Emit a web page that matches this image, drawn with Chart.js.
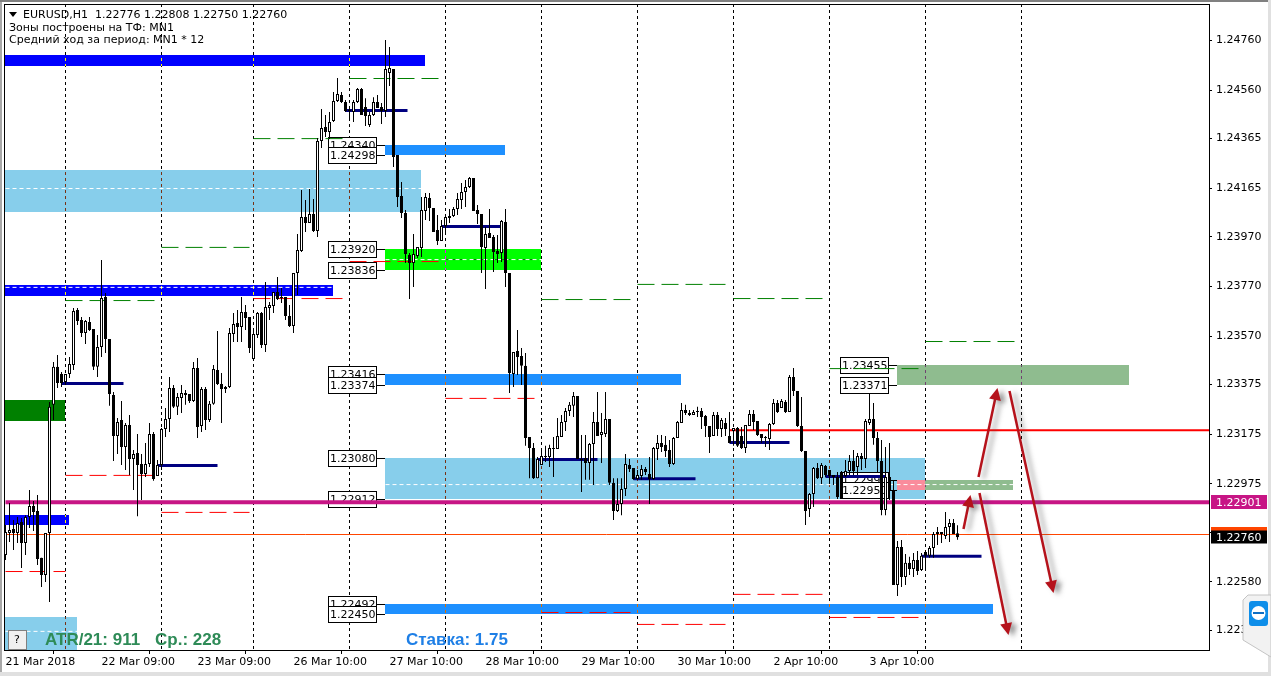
<!DOCTYPE html>
<html>
<head>
<meta charset="utf-8">
<title>EURUSD,H1</title>
<script src="https://cdn.jsdelivr.net/npm/chart.js@4/dist/chart.umd.min.js"></script>
<style>
    html, body { margin: 0; padding: 0; background: #fff; overflow: hidden; }
    canvas { display: block; }
</style>
</head>
<body>
<canvas id="chart" width="1271" height="676"></canvas>
<script>
// H1 candles, bar 0 = 21 Mar 2018
const opens = [
1.22689,1.22777,1.22793,1.22777,1.22821,1.22737,1.22841,1.22886,1.22866,1.22677,
1.22608,1.22777,1.23293,1.23446,1.23417,1.23385,1.23417,1.23454,1.23675,1.23635,
1.23582,1.23627,1.23598,1.23446,1.23526,1.23727,1.23558,1.23333,1.23168,1.23232,
1.23123,1.23212,1.23075,1.23099,1.23055,1.23015,1.23055,1.23176,1.23007,1.23051,
1.23196,1.23236,1.23361,1.23285,1.23321,1.23341,1.23337,1.23309,1.23441,1.23208,
1.23357,1.23232,1.23297,1.23433,1.23377,1.23357,1.23365,1.23578,1.23623,1.23607,
1.23667,1.23647,1.23478,1.23574,1.23663,1.23534,1.23683,1.23691,1.23747,1.23727,
1.23727,1.23651,1.23611,1.23824,1.23912,1.24049,1.24025,1.24061,1.23993,1.24355,
1.24412,1.24392,1.24436,1.24516,1.24541,1.24512,1.24480,1.24472,1.24512,1.24565,
1.24492,1.24420,1.24460,1.24512,1.24492,1.24476,1.24629,1.24645,1.24299,1.24134,
1.24065,1.23896,1.23864,1.23892,1.23925,1.24074,1.24126,1.24086,1.23997,1.23953,
1.24013,1.24053,1.24053,1.24082,1.24118,1.24150,1.24170,1.24206,1.24078,1.24061,
1.23925,1.23985,1.23969,1.23912,1.23904,1.24029,1.23824,1.23417,1.23510,1.23490,
1.23450,1.23164,1.23119,1.22998,1.23051,1.23087,1.23083,1.23119,1.23115,1.23164,
1.23224,1.23268,1.23289,1.23329,1.23075,1.23079,1.23059,1.23135,1.23224,1.23172,
1.23176,1.23236,1.22979,1.22866,1.22894,1.22954,1.23051,1.23039,1.22995,1.23007,
1.23035,1.23015,1.22995,1.23115,1.23139,1.23132,1.23111,1.23055,1.23160,1.23220,
1.23272,1.23260,1.23252,1.23268,1.23268,1.23248,1.23208,1.23168,1.23252,1.23196,
1.23220,1.23168,1.23188,1.23200,1.23168,1.23119,1.23208,1.23256,1.23228,1.23176,
1.23164,1.23156,1.23216,1.23301,1.23280,1.23305,1.23264,1.23405,1.23349,1.23208,
1.23107,1.22874,1.22934,1.23039,1.22998,1.23047,1.23031,1.23011,1.23003,1.23023,
1.23007,1.23027,1.23067,1.23043,1.23087,1.23075,1.23220,1.23236,1.23160,1.23067,
1.22870,1.23003,1.22950,1.22568,1.22721,1.22600,1.22657,1.22632,1.22668,1.22628,
1.22701,1.22685,1.22717,1.22781,1.22781,1.22765,1.22801,1.22817,1.22776];
const highs = [
1.22809,1.22898,1.22829,1.22841,1.22837,1.22849,1.22950,1.22906,1.22930,1.22677,
1.22777,1.23305,1.23466,1.23494,1.23425,1.23417,1.23486,1.23683,1.23683,1.23647,
1.23635,1.23647,1.23598,1.23574,1.23876,1.23743,1.23558,1.23345,1.23240,1.23309,
1.23220,1.23252,1.23111,1.23176,1.23095,1.23139,1.23220,1.23184,1.23071,1.23200,
1.23280,1.23405,1.23373,1.23341,1.23373,1.23353,1.23337,1.23466,1.23482,1.23365,
1.23365,1.23309,1.23454,1.23590,1.23421,1.23369,1.23602,1.23663,1.23675,1.23727,
1.23695,1.23647,1.23594,1.23667,1.23667,1.23788,1.23707,1.23747,1.23808,1.23764,
1.23727,1.23695,1.23824,1.23981,1.24158,1.24118,1.24162,1.24122,1.24367,1.24484,
1.24460,1.24472,1.24553,1.24609,1.24553,1.24520,1.24488,1.24520,1.24569,1.24569,
1.24528,1.24472,1.24532,1.24541,1.24508,1.24762,1.24734,1.24645,1.24299,1.24190,
1.24078,1.23904,1.23981,1.23929,1.24130,1.24146,1.24146,1.24086,1.24057,1.24037,
1.24057,1.24082,1.24090,1.24146,1.24186,1.24198,1.24210,1.24206,1.24098,1.24061,
1.24009,1.24082,1.23977,1.23977,1.24037,1.24082,1.23824,1.23506,1.23594,1.23522,
1.23502,1.23164,1.23139,1.23083,1.23119,1.23128,1.23132,1.23164,1.23240,1.23252,
1.23280,1.23305,1.23345,1.23329,1.23172,1.23172,1.23139,1.23264,1.23345,1.23260,
1.23345,1.23236,1.22998,1.22998,1.22998,1.23095,1.23075,1.23039,1.23031,1.23051,
1.23043,1.23083,1.23123,1.23172,1.23172,1.23168,1.23152,1.23164,1.23228,1.23301,
1.23293,1.23272,1.23272,1.23285,1.23280,1.23252,1.23208,1.23264,1.23264,1.23240,
1.23240,1.23264,1.23200,1.23204,1.23204,1.23212,1.23272,1.23272,1.23228,1.23176,
1.23168,1.23220,1.23317,1.23313,1.23317,1.23313,1.23413,1.23441,1.23349,1.23325,
1.23107,1.22938,1.23043,1.23059,1.23059,1.23051,1.23031,1.23011,1.23023,1.23027,
1.23071,1.23091,1.23111,1.23099,1.23099,1.23236,1.23341,1.23301,1.23184,1.23152,
1.23123,1.23139,1.22987,1.22745,1.22749,1.22693,1.22681,1.22697,1.22705,1.22697,
1.22709,1.22725,1.22781,1.22801,1.22781,1.22862,1.22833,1.22833,1.22808];
const lows = [
1.22668,1.22741,1.22709,1.22737,1.22636,1.22689,1.22797,1.22785,1.22648,1.22560,
1.22580,1.22499,1.23232,1.23361,1.23365,1.23373,1.23401,1.23433,1.23615,1.23566,
1.23538,1.23590,1.23433,1.23405,1.23486,1.23502,1.23289,1.23067,1.23095,1.23051,
1.23031,1.23011,1.22950,1.22845,1.22910,1.23003,1.23043,1.22987,1.23007,1.23031,
1.23164,1.23184,1.23280,1.23252,1.23260,1.23293,1.23301,1.23305,1.23160,1.23184,
1.23192,1.23224,1.23293,1.23373,1.23220,1.23341,1.23361,1.23546,1.23546,1.23546,
1.23594,1.23502,1.23474,1.23562,1.23522,1.23506,1.23635,1.23663,1.23715,1.23703,
1.23635,1.23607,1.23582,1.23735,1.23908,1.23989,1.24025,1.23989,1.23969,1.24327,
1.24371,1.24363,1.24432,1.24512,1.24508,1.24472,1.24440,1.24432,1.24508,1.24460,
1.24416,1.24412,1.24456,1.24488,1.24424,1.24452,1.24577,1.24251,1.24090,1.24045,
1.23864,1.23719,1.23768,1.23884,1.23888,1.24037,1.24033,1.23989,1.23937,1.23953,
1.23989,1.24025,1.24049,1.24057,1.24082,1.24090,1.24166,1.24074,1.24021,1.23824,
1.23760,1.23965,1.23828,1.23864,1.23868,1.23768,1.23341,1.23365,1.23413,1.23373,
1.23128,1.22998,1.22995,1.22998,1.23051,1.23063,1.23043,1.23003,1.23115,1.23164,
1.23188,1.23248,1.23244,1.23075,1.22942,1.22991,1.22991,1.22970,1.23168,1.23059,
1.23164,1.22970,1.22829,1.22862,1.22849,1.22926,1.23023,1.22991,1.22991,1.22991,
1.23011,1.22894,1.22991,1.23071,1.23103,1.23083,1.23043,1.23051,1.23160,1.23220,
1.23252,1.23248,1.23252,1.23244,1.23196,1.23164,1.23099,1.23168,1.23168,1.23164,
1.23168,1.23139,1.23128,1.23123,1.23115,1.23099,1.23208,1.23192,1.23168,1.23139,
1.23123,1.23111,1.23212,1.23260,1.23280,1.23260,1.23264,1.23329,1.23204,1.23103,
1.22809,1.22841,1.22882,1.22995,1.22974,1.23003,1.22974,1.22970,1.22914,1.22914,
1.23003,1.23011,1.23011,1.23011,1.23031,1.23039,1.23212,1.23132,1.23023,1.22849,
1.22849,1.22910,1.22568,1.22523,1.22560,1.22568,1.22608,1.22600,1.22608,1.22624,
1.22636,1.22677,1.22677,1.22729,1.22737,1.22753,1.22741,1.22773,1.22750];
const closes = [
1.22781,1.22789,1.22777,1.22817,1.22737,1.22841,1.22886,1.22862,1.22672,1.22608,
1.22777,1.23285,1.23446,1.23381,1.23381,1.23417,1.23458,1.23671,1.23631,1.23582,
1.23631,1.23594,1.23446,1.23526,1.23723,1.23558,1.23337,1.23168,1.23224,1.23123,
1.23212,1.23075,1.23095,1.23051,1.23015,1.23055,1.23176,1.22995,1.23051,1.23196,
1.23236,1.23361,1.23285,1.23325,1.23341,1.23333,1.23309,1.23441,1.23204,1.23357,
1.23232,1.23297,1.23437,1.23377,1.23357,1.23365,1.23582,1.23619,1.23607,1.23667,
1.23643,1.23522,1.23578,1.23663,1.23534,1.23687,1.23695,1.23747,1.23719,1.23723,
1.23651,1.23611,1.23824,1.23917,1.24049,1.24025,1.24061,1.23993,1.24355,1.24408,
1.24392,1.24432,1.24516,1.24545,1.24512,1.24476,1.24476,1.24512,1.24565,1.24460,
1.24456,1.24460,1.24512,1.24488,1.24476,1.24645,1.24649,1.24291,1.24130,1.24065,
1.23900,1.23864,1.23900,1.23929,1.24078,1.24130,1.24086,1.23989,1.23953,1.24013,
1.24049,1.24045,1.24082,1.24122,1.24150,1.24170,1.24206,1.24074,1.24061,1.23929,
1.23981,1.23965,1.23908,1.23900,1.24033,1.23824,1.23421,1.23506,1.23486,1.23450,
1.23160,1.23119,1.22998,1.23075,1.23087,1.23083,1.23119,1.23115,1.23168,1.23224,
1.23268,1.23293,1.23329,1.23075,1.23071,1.23059,1.23135,1.23224,1.23168,1.23184,
1.23236,1.22979,1.22866,1.22894,1.22954,1.23055,1.23035,1.22995,1.23011,1.23035,
1.23023,1.22995,1.23119,1.23139,1.23123,1.23107,1.23055,1.23160,1.23224,1.23272,
1.23260,1.23252,1.23264,1.23264,1.23244,1.23208,1.23164,1.23252,1.23196,1.23232,
1.23196,1.23139,1.23200,1.23128,1.23119,1.23212,1.23256,1.23224,1.23172,1.23160,
1.23160,1.23216,1.23301,1.23264,1.23309,1.23264,1.23405,1.23349,1.23208,1.23107,
1.22866,1.22934,1.23039,1.22998,1.23051,1.23011,1.23007,1.23003,1.22922,1.22918,
1.23027,1.23067,1.23027,1.23087,1.23075,1.23228,1.23236,1.23160,1.23067,1.22870,
1.23003,1.22950,1.22568,1.22721,1.22600,1.22657,1.22632,1.22668,1.22624,1.22685,
1.22685,1.22717,1.22773,1.22773,1.22773,1.22801,1.22817,1.22773,1.22760];

const priceTicks = [1.24760,1.24560,1.24365,1.24165,1.23970,1.23770,1.23570,1.23375,1.23175,1.22975,1.22780,1.22580,1.22385];
const dateTickBars = [0,24,48,72,96,120,144,168,192,216];
const dateLabels = ['21 Mar 2018','22 Mar 09:00','23 Mar 09:00','26 Mar 10:00','27 Mar 10:00','28 Mar 10:00','29 Mar 10:00','30 Mar 10:00','2 Apr 10:00','3 Apr 10:00'];
const separatorBars = [15,39,62,86,110,134,158,182,206,230,254];

// zones: [first bar, last bar, upper price, lower price]
const blueZones = [[0,105,1.24702,1.24657],[0,82,1.23776,1.23731],[0,16,1.22849,1.22809]];
const skyZones = [[0,104,1.24239,1.24069],[95,230,1.23080,1.22912],[0,18,1.22439,1.22306]];
const dodgerZones = [[95,125,1.24340,1.24298],[95,169,1.23416,1.23374],[95,247,1.22492,1.22450]];
const limeZones = [[95,134,1.23920,1.23836]];
const darkGreenZones = [[0,15,1.23313,1.23228]];
const sageZones = [[223,281,1.23455,1.23371],[230,252,1.22990,1.22950]];
const pinkZones = [[223,230,1.22990,1.22950]];

// segments: [first bar, last bar, price]
const navySegments = [[14,29.5,1.23379],[38,53,1.23049],[85,100.5,1.24478],[109,124,1.24011],[133,148,1.23073],[157,172.5,1.22996],[181,196,1.23141],[205,220,1.23005],[229,244,1.22683]];
const greenDashes = [[15,37.5,1.23713],[39,61,1.23927],[62,85,1.24365],[86,109,1.24607],[110,133,1.23878],[134,156.5,1.23717],[158,180,1.23778],[182,204.5,1.23721],[206,228.5,1.23439],[230,252.5,1.23548]];
const redDashes = [[0,15,1.22622],[15,37.5,1.23009],[39,61,1.22860],[62,85,1.23721],[86,109,1.23870],[110,132.5,1.23319],[134,157,1.22457],[158,180,1.22409],[182,204.5,1.22530],[206,228.5,1.22437]];
const whiteDashes = [[0,82,1.23766],[0,104,1.24164],[95,230,1.22972],[95,134,1.23878],[0,18,1.22381],[223,281,1.23371],[230,252,1.22972]];
const magentaLevel = 1.22901;
const orangeLevel = 1.22771;
const redLevel = [181,1.23191];

// labelled zone edges: [zone start bar, price]
const edgeLabels = [[95,1.24340],[95,1.24298],[95,1.23920],[95,1.23836],[95,1.23416],[95,1.23374],[95,1.23080],[95,1.22912],[95,1.22492],[95,1.22450],[223,1.23455],[223,1.23371],[223,1.22990],[223,1.22950]];

// arrows: [tail bar, tail price, tip bar, tip price]
const arrows = [[239.5,1.22793,241.25,1.22930],[243.25,1.23003,248,1.23361],[251,1.23349,262,1.22536],[243.5,1.22938,250.75,1.22366]];

const lastPrice = closes[closes.length - 1];
const barMin = -0.375, barMax = 300.875;
const priceMin = 1.22306, priceMax = 1.24907;
const uiFont = '11px "DejaVu Sans"';

function segmentDataset(seg, color, width, dash) {
    return {
        type: 'line',
        data: [{ x: seg[0], y: seg[2] }, { x: seg[1], y: seg[2] }],
        borderColor: color,
        borderWidth: width,
        borderDash: dash || [],
        pointRadius: 0,
        order: 3
    };
}

const lineSets = [];
whiteDashes.forEach(s => lineSets.push(segmentDataset(s, '#ffffff', 1, [4, 3])));
redDashes.forEach(s => lineSets.push(segmentDataset(s, '#ff0000', 1, [17, 7])));
greenDashes.forEach(s => lineSets.push(segmentDataset(s, '#008000', 1, [17, 7])));
navySegments.forEach(s => lineSets.push(segmentDataset(s, '#000080', 3)));
lineSets.push(segmentDataset([barMin, barMax, orangeLevel], '#ff4500', 1));
lineSets.push(segmentDataset([redLevel[0], barMax, redLevel[1]], '#ff0000', 2));
lineSets.push(segmentDataset([0, barMax, magentaLevel], '#c71585', 4));

const wicks = highs.map((h, i) => ({ x: i, y: [lows[i], h] }));
const bodies = opens.map((o, i) => ({ x: i, y: [Math.min(o, closes[i]), Math.max(o, closes[i])] }));
const bodyFill = opens.map((o, i) => closes[i] >= o ? '#ffffff' : '#000000');

// everything MT4 draws on top of the plain candles
const overlay = {
    id: 'overlay',
    beforeDraw(chart) {
        const c = chart.ctx;
        c.save();
        c.fillStyle = '#ffffff';
        c.fillRect(0, 0, chart.width, chart.height);
        c.fillStyle = '#a8a8a8';
        c.fillRect(0, 0, 2, chart.height);
        c.fillStyle = '#808080';
        c.fillRect(0, 0, chart.width, 2);
        c.fillStyle = '#e0e0e0';
        c.fillRect(chart.width - 3, 0, 3, chart.height);
        c.fillRect(0, chart.height - 4, chart.width, 4);
        c.restore();
    },
    beforeDatasetsDraw(chart) {
        const c = chart.ctx, x = chart.scales.x, y = chart.scales.y, a = chart.chartArea;
        c.save();
        const fillZones = (zones, color) => {
            c.fillStyle = color;
            zones.forEach(z => {
                const left = x.getPixelForValue(z[0]) - 0.5, right = x.getPixelForValue(z[1]) - 0.5;
                const top = Math.round(y.getPixelForValue(z[2])), bottom = Math.round(y.getPixelForValue(z[3]));
                c.fillRect(left, top, right - left, bottom - top);
            });
        };
        fillZones(skyZones, '#87ceeb');
        fillZones(blueZones, '#0000ff');
        fillZones(dodgerZones, '#1e90ff');
        fillZones(limeZones, '#00ff00');
        fillZones(darkGreenZones, '#008000');
        fillZones(sageZones, '#8fbc8f');
        fillZones(pinkZones, '#fa8c9c');

        // period separators invert whatever is under them
        c.globalCompositeOperation = 'difference';
        c.strokeStyle = '#ffffff';
        c.setLineDash([3, 3]);
        c.lineWidth = 1;
        separatorBars.forEach(b => {
            const px = x.getPixelForValue(b);
            c.beginPath();
            c.moveTo(px, a.top);
            c.lineTo(px, a.bottom);
            c.stroke();
        });
        c.globalCompositeOperation = 'source-over';
        c.setLineDash([]);

        // edge price boxes
        c.font = uiFont;
        c.textBaseline = 'middle';
        c.textAlign = 'left';
        edgeLabels.forEach(l => {
            const zoneX = x.getPixelForValue(l[0]) - 0.5;
            const py = Math.round(y.getPixelForValue(l[1]));
            c.strokeStyle = '#000000';
            c.beginPath();
            c.moveTo(zoneX - 9, py + 0.5);
            c.lineTo(zoneX, py + 0.5);
            c.stroke();
            c.fillStyle = '#ffffff';
            c.fillRect(zoneX - 57, py - 8, 48, 16);
            c.strokeRect(zoneX - 56.5, py - 7.5, 48, 16);
            c.fillStyle = '#000000';
            c.fillText(l[1].toFixed(5), zoneX - 55, py + 1);
        });
        c.restore();
    },
    afterDatasetsDraw(chart) {
        const c = chart.ctx, x = chart.scales.x, y = chart.scales.y, a = chart.chartArea;
        c.save();

        // forecast arrows
        arrows.forEach(ar => {
            const x0 = x.getPixelForValue(ar[0]), y0 = y.getPixelForValue(ar[1]);
            const x1 = x.getPixelForValue(ar[2]), y1 = y.getPixelForValue(ar[3]);
            const ang = Math.atan2(y1 - y0, x1 - x0);
            c.save();
            c.shadowColor = 'rgba(80,80,80,0.55)';
            c.shadowBlur = 5;
            c.shadowOffsetX = 5;
            c.shadowOffsetY = 2;
            c.strokeStyle = '#b5121b';
            c.fillStyle = '#b5121b';
            c.lineWidth = 2.5;
            c.beginPath();
            c.moveTo(x0, y0);
            c.lineTo(x1 - 9 * Math.cos(ang), y1 - 9 * Math.sin(ang));
            c.stroke();
            c.beginPath();
            c.moveTo(x1, y1);
            c.lineTo(x1 - 12 * Math.cos(ang) + 6 * Math.sin(ang), y1 - 12 * Math.sin(ang) - 6 * Math.cos(ang));
            c.lineTo(x1 - 12 * Math.cos(ang) - 6 * Math.sin(ang), y1 - 12 * Math.sin(ang) + 6 * Math.cos(ang));
            c.closePath();
            c.fill();
            c.restore();
        });

        // header text
        c.fillStyle = '#000000';
        c.beginPath();
        c.moveTo(9, 12);
        c.lineTo(17, 12);
        c.lineTo(13, 17);
        c.closePath();
        c.fill();
        c.font = uiFont;
        c.textAlign = 'left';
        c.textBaseline = 'middle';
        c.fillText('EURUSD,H1  1.22776 1.22808 1.22750 1.22760', 23, 15);
        c.fillText('Зоны построены на ТФ: MN1', 9, 28);
        c.fillText('Средний ход за период: MN1 * 12', 9, 40);

        // bottom captions
        c.font = 'bold 17px "Liberation Sans"';
        c.fillStyle = '#2e8b57';
        c.fillText('ATR/21: 911', 45, 640);
        c.fillText('Ср.: 228', 155, 640);
        c.fillStyle = '#1e7fe6';
        c.fillText('Ставка: 1.75', 406, 640);

        // help button
        c.fillStyle = '#f0f0f0';
        c.fillRect(8, 630, 18, 19);
        c.strokeStyle = '#808080';
        c.lineWidth = 1;
        c.strokeRect(8.5, 630.5, 18, 19);
        c.fillStyle = '#000000';
        c.font = uiFont;
        c.textAlign = 'center';
        c.fillText('?', 17, 640);

        // plot frame
        c.strokeStyle = '#000000';
        c.strokeRect(a.left + 0.5, a.top + 0.5, a.right - a.left, a.bottom - a.top);

        // price tags in the right margin
        c.textAlign = 'left';
        const tag = (price, fill, h) => {
            const py = Math.round(y.getPixelForValue(price));
            c.fillStyle = fill;
            c.fillRect(a.right + 2, py - h / 2, 56, h);
            c.fillStyle = '#ffffff';
            c.fillText(price.toFixed(5), a.right + 7, py + 1);
        };
        c.fillStyle = '#ff4500';
        c.fillRect(a.right + 2, 527, 56, 8);
        tag(magentaLevel, '#c71585', 14);
        tag(lastPrice, '#000000', 13);

        // remote desktop side tab over the axis
        c.fillStyle = '#f2f2f2';
        c.strokeStyle = '#c4c4c4';
        c.beginPath();
        c.moveTo(1248, 595);
        c.lineTo(1271, 595);
        c.lineTo(1271, 657);
        c.lineTo(1243, 640);
        c.lineTo(1243, 600);
        c.closePath();
        c.fill();
        c.stroke();
        c.fillStyle = '#0e8ee9';
        c.beginPath();
        c.roundRect(1249, 601, 19, 25, 3);
        c.fill();
        c.fillStyle = '#ffffff';
        c.beginPath();
        c.arc(1258.5, 613, 7, 0, Math.PI * 2);
        c.fill();
        c.fillStyle = '#0e6fc4';
        c.fillRect(1253, 612, 11, 2);
        c.restore();
    }
};

new Chart(document.getElementById('chart').getContext('2d'), {
    type: 'bar',
    data: {
        datasets: lineSets.concat([
            {
                data: wicks,
                backgroundColor: '#000000',
                barThickness: 1,
                borderWidth: 0,
                grouped: false,
                inflateAmount: 0,
                order: 2
            },
            {
                data: bodies,
                backgroundColor: bodyFill,
                borderColor: '#000000',
                borderWidth: 1,
                borderSkipped: false,
                barThickness: 3,
                grouped: false,
                inflateAmount: 0,
                order: 1
            }
        ])
    },
    options: {
        responsive: false,
        animation: false,
        layout: { padding: { left: 4, top: 4, right: 0, bottom: 0 } },
        plugins: { legend: { display: false }, tooltip: { enabled: false } },
        scales: {
            x: {
                type: 'linear',
                min: barMin,
                max: barMax,
                offset: false,
                afterBuildTicks(scale) {
                    scale.ticks = dateTickBars.map(v => ({ value: v }));
                },
                afterFit(scale) {
                    scale.height = 26;
                    scale.paddingLeft = 0;
                    scale.paddingRight = 0;
                },
                grid: { drawOnChartArea: false, tickLength: 4, tickColor: '#000000' },
                border: { color: '#000000' },
                ticks: {
                    autoSkip: false,
                    maxRotation: 0,
                    align: 'start',
                    padding: 2,
                    color: '#000000',
                    font: { family: 'DejaVu Sans', size: 11 },
                    callback: (v, i) => dateLabels[i]
                }
            },
            y: {
                position: 'right',
                min: priceMin,
                max: priceMax,
                afterBuildTicks(scale) {
                    scale.ticks = priceTicks.map(v => ({ value: v }));
                },
                afterFit(scale) {
                    scale.width = 62;
                    scale.paddingTop = 0;
                    scale.paddingBottom = 0;
                },
                grid: { drawOnChartArea: false, tickLength: 3, tickColor: '#000000' },
                border: { color: '#000000' },
                ticks: {
                    autoSkip: false,
                    padding: 4,
                    color: '#000000',
                    font: { family: 'DejaVu Sans', size: 11 },
                    callback: v => v.toFixed(5)
                }
            }
        }
    },
    plugins: [overlay]
});
</script>
</body>
</html>
